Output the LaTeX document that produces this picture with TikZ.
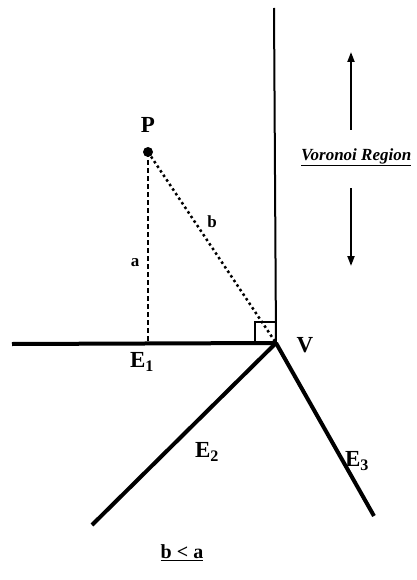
\documentclass[tikz,border=0pt]{standalone}
\usepackage{fontspec}
\setmainfont{Liberation Serif}
\usetikzlibrary{arrows.meta}
\begin{document}
\begin{tikzpicture}[x=1pt,y=-1pt,
  edge/.style={line width=4pt},
  wall/.style={line width=2pt},
  dashline/.style={line width=2.5pt,dash pattern=on 5pt off 3pt},
  dotline/.style={line width=2.5pt,dash pattern=on 2.5pt off 3pt},
  lbl/.style={font=\bfseries\fontsize{23}{25}\selectfont,inner sep=0pt},
  small/.style={font=\bfseries\fontsize{17}{19}\selectfont,inner sep=0pt},
  arr/.style={line width=2pt,-{Triangle[length=10pt,width=7pt]}}]
\useasboundingbox (0,0) rectangle (416,580);
\coordinate (V) at (276,343);
\coordinate (E1end) at (12,344);
\coordinate (top) at (274,8);
\coordinate (E2end) at (92,525);
\coordinate (E3end) at (374,516);
\coordinate (P) at (148,152);
\coordinate (foot) at (148,343);
\coordinate (up0) at (351,130);
\coordinate (up1) at (351,52);
\coordinate (dn0) at (351,188);
\coordinate (dn1) at (351,266);
\draw[edge] (E1end) -- (V);
\draw[wall] (V) -- (top);
\draw[edge] (V) -- (E2end);
\draw[edge] (V) -- (E3end);
\draw[dashline] (P) -- (foot);
\draw[dotline] (P) -- (V);
\draw[line width=1.5pt] (255,343) -- (255,322) -- (276,322);
\fill (P) circle (5pt);
\draw[arr] (up0) -- (up1);
\draw[arr] (dn0) -- (dn1);
\node[lbl] (Pl) at (148,125) {P};
\node[small] (al) at (135,263) {a};
\node[small] (bl) at (212,222) {b};
\node[lbl] (Vl) at (305,345) {V};
\node[lbl] (E1l) at (142,362) {E\textsubscript{1}};
\node[lbl] (E2l) at (207,452) {E\textsubscript{2}};
\node[lbl] (E3l) at (357,461) {E\textsubscript{3}};
\node[font=\bfseries\itshape\fontsize{17}{19}\selectfont,inner sep=0pt,anchor=west] (vr) at (301,157) {\underline{Voronoi Region}};
\node[font=\bfseries\fontsize{20}{22}\selectfont,inner sep=0pt] (ba) at (182,553) {\underline{b < a}};
\end{tikzpicture}
\end{document}
